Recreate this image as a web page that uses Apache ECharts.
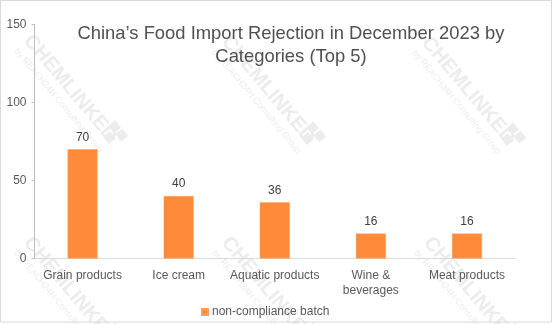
<!DOCTYPE html>
<html>
<head>
<meta charset="utf-8">
<script src="https://cdn.jsdelivr.net/npm/echarts@6/dist/echarts.min.js"></script>
<style>html,body{margin:0;padding:0;background:#fff}#c{width:554px;height:324px}</style>
</head>
<body>
<div id="c"></div>
<script>
var titleText = "China\u2019s Food Import Rejection in December 2023 by\nCategories (Top 5)";
var categories = ["Grain products", "Ice cream", "Aquatic products", "Wine &\nbeverages", "Meat products"];
var seriesName = "non-compliance batch";
var values = [70, 40, 36, 16, 16];
var yTicks = [0, 50, 100, 150];

var wmStarts = [[35, 31], [233, 32], [433, 33], [35, 233], [233, 233], [435, 233]];
function watermark(p) {
  return {
    type: 'group', x: p[0], y: p[1], rotation: -50 * Math.PI / 180, z: 0, silent: true,
    children: [
      { type: 'text', x: 0, y: 0, style: { text: 'CHEMLINKED', font: 'bold 20px "Liberation Sans", Arial', fill: '#ececec', textVerticalAlign: 'top' } },
      { type: 'text', x: 2, y: 22, style: { text: 'by REACH24H Consulting Group', font: '9px "Liberation Sans", Arial', fill: '#ececec', textVerticalAlign: 'top' } },
      { type: 'rect', shape: { x: 120, y: -4, width: 9, height: 9 }, style: { fill: '#ececec' } },
      { type: 'rect', shape: { x: 131, y: -4, width: 9, height: 9 }, style: { fill: '#ececec' } },
      { type: 'rect', shape: { x: 125, y: 7, width: 9, height: 9 }, style: { fill: '#ececec' } }
    ]
  };
}
var graphics = wmStarts.map(watermark);
graphics.push({ type: 'rect', z: 0, silent: true, shape: { x: 0.5, y: 0.5, width: 551, height: 321.5 }, style: { fill: 'none', stroke: '#d9d9d9', lineWidth: 1 } });

var chart = echarts.init(document.getElementById('c'), null, { renderer: 'canvas' });
chart.setOption({
  animation: false,
  backgroundColor: '#ffffff',
  textStyle: { fontFamily: '"Liberation Sans", Arial, sans-serif' },
  graphic: graphics,
  title: {
    text: titleText,
    left: 291, top: 22, textAlign: 'center', padding: 0,
    textStyle: { fontSize: 18.4, fontWeight: 'normal', color: '#505050', lineHeight: 23.5, fontFamily: '"Liberation Sans", Arial, sans-serif' }
  },
  legend: {
    data: [seriesName],
    left: 201, top: 306, padding: 0,
    itemWidth: 6, itemHeight: 6, itemGap: 4, icon: 'rect',
    textStyle: { fontSize: 12, color: '#595959', padding: [0, 0, 0, -1] }
  },
  grid: { left: 34.5, right: 39, top: 24.3, bottom: 65.5, containLabel: false },
  xAxis: {
    type: 'category', data: categories,
    axisLine: { lineStyle: { color: '#d9d9d9' } },
    axisTick: { show: false },
    axisLabel: { fontSize: 12, color: '#595959', margin: 10, lineHeight: 14.5, interval: 0 }
  },
  yAxis: {
    type: 'value', min: yTicks[0], max: yTicks[yTicks.length - 1], interval: 50,
    axisLine: { show: true, lineStyle: { color: '#bfbfbf' } },
    axisTick: { show: true, length: 3, lineStyle: { color: '#bfbfbf' } },
    splitLine: { show: false },
    axisLabel: { fontSize: 12, color: '#595959', margin: 8 }
  },
  series: [{
    name: seriesName, type: 'bar', data: values, barWidth: 30,
    itemStyle: { color: '#FF8B3A', borderColor: '#FFA060', borderWidth: 0.5 },
    label: { show: true, position: 'top', distance: 6, fontSize: 12, color: '#404040' }
  }]
});
</script>
</body>
</html>
